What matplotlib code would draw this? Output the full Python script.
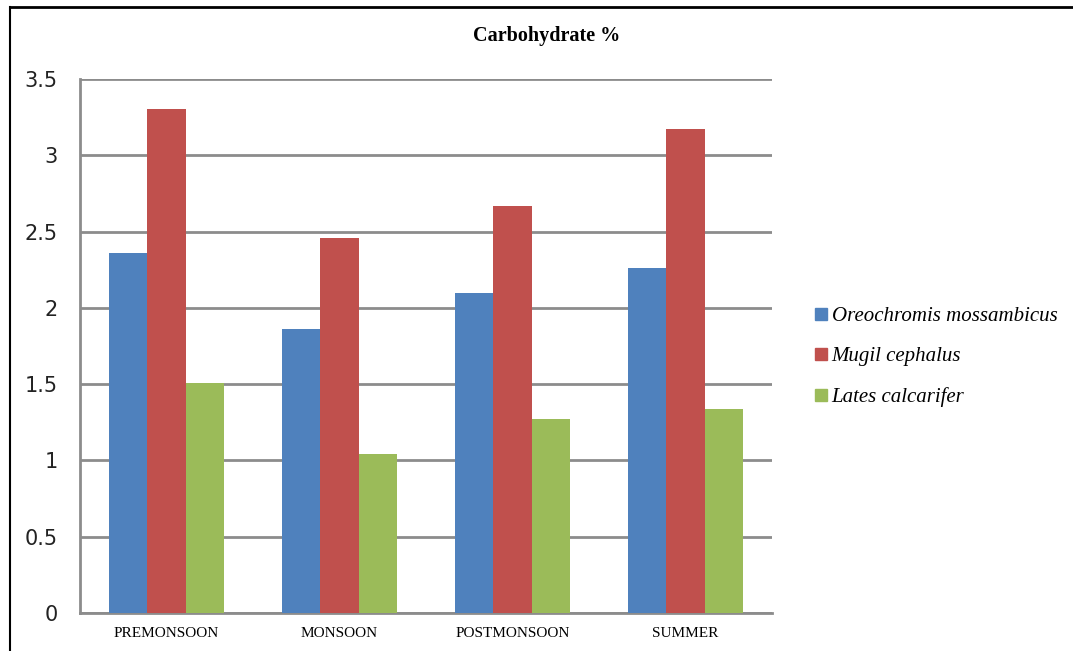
import numpy as np
import matplotlib.pyplot as plt
from matplotlib.lines import Line2D

seasons = ["PREMONSOON", "MONSOON", "POSTMONSOON", "SUMMER"]
species = ["Oreochromis mossambicus", "Mugil cephalus", "Lates calcarifer"]
oreochromis = [2.36, 1.86, 2.10, 2.26]
mugil = [3.30, 2.46, 2.67, 3.17]
lates = [1.51, 1.04, 1.27, 1.34]
yticks = [0, 0.5, 1, 1.5, 2, 2.5, 3, 3.5]
ytick_labels = ["0", "0.5", "1", "1.5", "2", "2.5", "3", "3.5"]

colors = ["#4f81bd", "#c0504d", "#9bbb59"]
grid_gray = "#8c8c8c"

fig = plt.figure(figsize=(10.73, 6.51), dpi=100)
ax = fig.add_axes([0.0746, 0.0584, 0.6450, 0.8203])

x = np.arange(len(seasons))
w = 0.222
for i, (vals, c) in enumerate(zip([oreochromis, mugil, lates], colors)):
    ax.bar(x + (i - 1) * w, vals, width=w, color=c, zorder=3, label=species[i])

ax.set_xlim(-0.5, len(seasons) - 0.5)
ax.set_ylim(0, 3.5)
ax.set_yticks(yticks)
ax.set_yticklabels(ytick_labels, fontsize=15, family="DejaVu Sans", color="#222222")
ax.set_xticks(x)
ax.set_xticklabels(seasons, fontsize=11, family="Liberation Serif")
ax.tick_params(axis="both", length=0)
ax.tick_params(axis="y", pad=16)
ax.tick_params(axis="x", pad=10)

ax.grid(axis="y", color=grid_gray, linewidth=2, zorder=0)
for side in ["top", "right"]:
    ax.spines[side].set_visible(False)
for side in ["left", "bottom"]:
    ax.spines[side].set_color(grid_gray)
    ax.spines[side].set_linewidth(2)

fig.text(0.509, 0.945, "Carbohydrate %", ha="center", va="center",
         fontsize=14.5, fontweight="bold", family="Liberation Serif")

handles = [Line2D([0], [0], marker="s", linestyle="", markersize=8,
                  markerfacecolor=c, markeredgecolor=c) for c in colors]
leg = fig.legend(handles, species, loc="center left", bbox_to_anchor=(0.741, 0.452),
                 frameon=False, handlelength=0.7, handletextpad=0.15,
                 labelspacing=1.0, prop={"family": "Liberation Serif",
                                         "style": "italic", "size": 15})

# outer chart frame
fig.add_artist(Line2D([0.0093, 0.0093], [0.0, 0.989], transform=fig.transFigure,
                      color="black", linewidth=1.5))
fig.add_artist(Line2D([0.0093, 1.0], [0.989, 0.989], transform=fig.transFigure,
                      color="black", linewidth=2))

fig.savefig("out.png", dpi=100, facecolor="white")
